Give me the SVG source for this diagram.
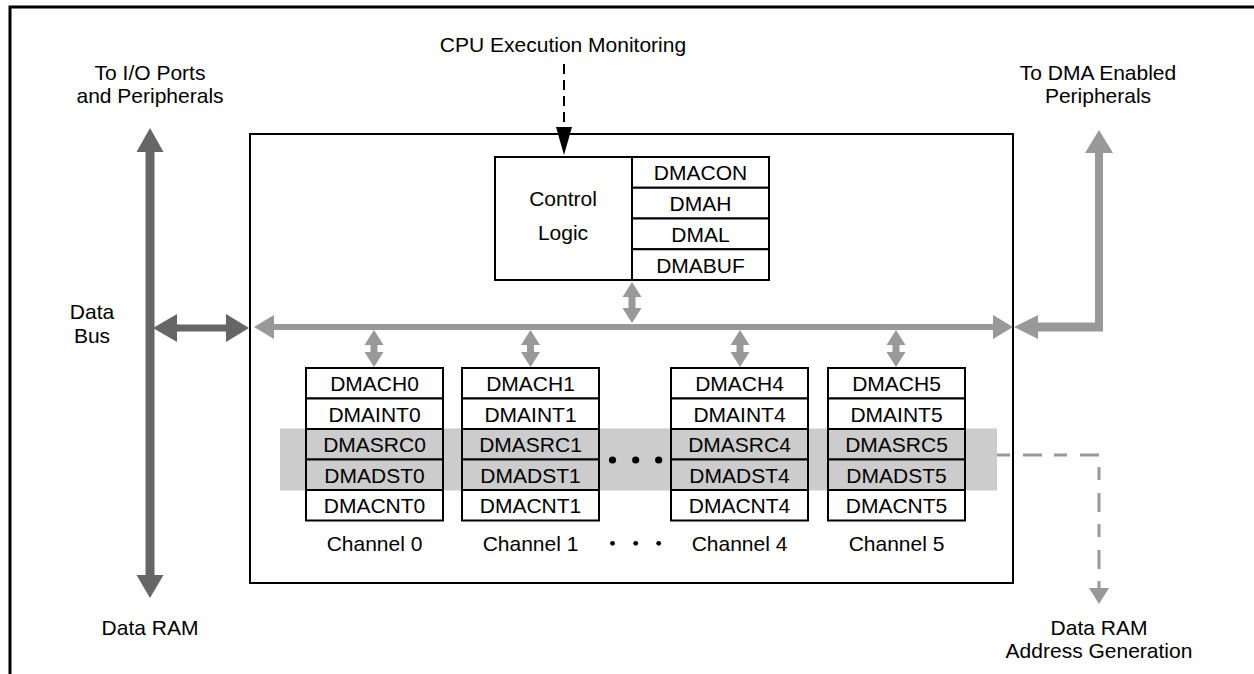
<svg xmlns="http://www.w3.org/2000/svg" width="1254" height="674" viewBox="0 0 1254 674">
<style>
text{font-family:"Liberation Sans",Arial,sans-serif;font-size:21px;fill:#000;text-anchor:middle}
.box{fill:#fff;stroke:#000;stroke-width:2}
.shade{fill:#cccccc;stroke:#000;stroke-width:2}
.lg{fill:#999999}
.dg{fill:#666666}
</style>
<rect width="1254" height="674" fill="#fff"/>
<g id="frame">
<path d="M10,674 V7 H1254" fill="none" stroke="#000" stroke-width="3"/>
</g>
<g id="dma-block">
<rect x="250" y="134" width="763" height="449" fill="none" stroke="#000" stroke-width="2"/>
</g>
<g id="address-band">
<rect x="280" y="428.5" width="717" height="62" fill="#cccccc"/>
</g>
<g id="control-logic">
<rect class="box" x="495" y="157" width="137" height="123"/>
<text x="563" y="206">Control</text>
<text x="563" y="240">Logic</text>
<rect class="box" x="632" y="157" width="137" height="30.75"/>
<rect class="box" x="632" y="187.75" width="137" height="30.75"/>
<rect class="box" x="632" y="218.5" width="137" height="30.75"/>
<rect class="box" x="632" y="249.25" width="137" height="30.75"/>
<text x="700.5" y="180">DMACON</text>
<text x="700.5" y="211">DMAH</text>
<text x="700.5" y="241.5">DMAL</text>
<text x="700.5" y="272.5">DMABUF</text>
</g>
<g id="channel0">
<rect class="box" x="306" y="368" width="137" height="30.5"/>
<rect class="box" x="306" y="398.5" width="137" height="30.5"/>
<rect class="shade" x="306" y="429" width="137" height="30.5"/>
<rect class="shade" x="306" y="459.5" width="137" height="30.5"/>
<rect class="box" x="306" y="490" width="137" height="30.5"/>
<text x="374.5" y="391">DMACH0</text>
<text x="374.5" y="421.5">DMAINT0</text>
<text x="374.5" y="452">DMASRC0</text>
<text x="374.5" y="482.5">DMADST0</text>
<text x="374.5" y="513">DMACNT0</text>
<text x="374.5" y="551">Channel 0</text>
</g>
<g id="channel1">
<rect class="box" x="462" y="368" width="137" height="30.5"/>
<rect class="box" x="462" y="398.5" width="137" height="30.5"/>
<rect class="shade" x="462" y="429" width="137" height="30.5"/>
<rect class="shade" x="462" y="459.5" width="137" height="30.5"/>
<rect class="box" x="462" y="490" width="137" height="30.5"/>
<text x="530.5" y="391">DMACH1</text>
<text x="530.5" y="421.5">DMAINT1</text>
<text x="530.5" y="452">DMASRC1</text>
<text x="530.5" y="482.5">DMADST1</text>
<text x="530.5" y="513">DMACNT1</text>
<text x="530.5" y="551">Channel 1</text>
</g>
<g id="channel4">
<rect class="box" x="671" y="368" width="137" height="30.5"/>
<rect class="box" x="671" y="398.5" width="137" height="30.5"/>
<rect class="shade" x="671" y="429" width="137" height="30.5"/>
<rect class="shade" x="671" y="459.5" width="137" height="30.5"/>
<rect class="box" x="671" y="490" width="137" height="30.5"/>
<text x="739.5" y="391">DMACH4</text>
<text x="739.5" y="421.5">DMAINT4</text>
<text x="739.5" y="452">DMASRC4</text>
<text x="739.5" y="482.5">DMADST4</text>
<text x="739.5" y="513">DMACNT4</text>
<text x="739.5" y="551">Channel 4</text>
</g>
<g id="channel5">
<rect class="box" x="828" y="368" width="137" height="30.5"/>
<rect class="box" x="828" y="398.5" width="137" height="30.5"/>
<rect class="shade" x="828" y="429" width="137" height="30.5"/>
<rect class="shade" x="828" y="459.5" width="137" height="30.5"/>
<rect class="box" x="828" y="490" width="137" height="30.5"/>
<text x="896.5" y="391">DMACH5</text>
<text x="896.5" y="421.5">DMAINT5</text>
<text x="896.5" y="452">DMASRC5</text>
<text x="896.5" y="482.5">DMADST5</text>
<text x="896.5" y="513">DMACNT5</text>
<text x="896.5" y="551">Channel 5</text>
</g>
<g id="ellipsis">
<circle cx="612.5" cy="460" r="3.6"/>
<circle cx="635.7" cy="460" r="3.6"/>
<circle cx="658.7" cy="460" r="3.6"/>
<circle cx="612.5" cy="543.3" r="2.4"/>
<circle cx="635.7" cy="543.3" r="2.4"/>
<circle cx="658.7" cy="543.3" r="2.4"/>
</g>
<g id="labels">
<text x="563" y="52">CPU Execution Monitoring</text>
<text x="150" y="80">To I/O Ports</text>
<text x="150" y="103">and Peripherals</text>
<text x="1098" y="80">To DMA Enabled</text>
<text x="1098" y="103">Peripherals</text>
<text x="92" y="319">Data</text>
<text x="92" y="343">Bus</text>
<text x="150" y="635">Data RAM</text>
<text x="1099" y="635">Data RAM</text>
<text x="1099" y="658">Address Generation</text>
</g>
<g id="connectors">
<path d="M564,64 V128" fill="none" stroke="#000" stroke-width="2" stroke-dasharray="10 6"/>
<polygon points="556,127 572,127 564,155" fill="#000"/>
<path class="dg" d="M150,128 L163.5,152 L154.5,152 L154.5,575 L163.5,575 L150,598 L136.5,575 L145.5,575 L145.5,152 L136.5,152 Z"/>
<path class="dg" d="M153,328 L177,314 L177,324.5 L226,324.5 L226,314 L249,328 L226,342 L226,331.5 L177,331.5 L177,342 Z"/>
<path class="lg" d="M254,327 L274,315 L274,324 L993,324 L993,315 L1013,327 L993,339 L993,330 L274,330 L274,339 Z"/>
<path class="lg" d="M1014,327 L1038,315 L1038,322.5 L1095,322.5 L1095,153 L1085,153 L1099,130 L1113,153 L1103,153 L1103,331.5 L1038,331.5 L1038,339 Z"/>
<path class="lg" d="M632,282 L641.5,297 L635.5,297 L635.5,308 L641.5,308 L632,323 L622.5,308 L628.5,308 L628.5,297 L622.5,297 Z"/>
<path class="lg" d="M374,330 L383.5,345 L377.5,345 L377.5,352 L383.5,352 L374,367 L364.5,352 L370.5,352 L370.5,345 L364.5,345 Z"/>
<path class="lg" d="M530.5,330 L540,345 L534,345 L534,352 L540,352 L530.5,367 L521,352 L527,352 L527,345 L521,345 Z"/>
<path class="lg" d="M740,330 L749.5,345 L743.5,345 L743.5,352 L749.5,352 L740,367 L730.5,352 L736.5,352 L736.5,345 L730.5,345 Z"/>
<path class="lg" d="M896,330 L905.5,345 L899.5,345 L899.5,352 L905.5,352 L896,367 L886.5,352 L892.5,352 L892.5,345 L886.5,345 Z"/>
<path d="M997,455 H1099 V590" fill="none" stroke="#999999" stroke-width="3" stroke-dasharray="13 13 19 12"/>
<polygon points="1089,588 1109,588 1099,604" fill="#999999"/>
</g>
</svg>
